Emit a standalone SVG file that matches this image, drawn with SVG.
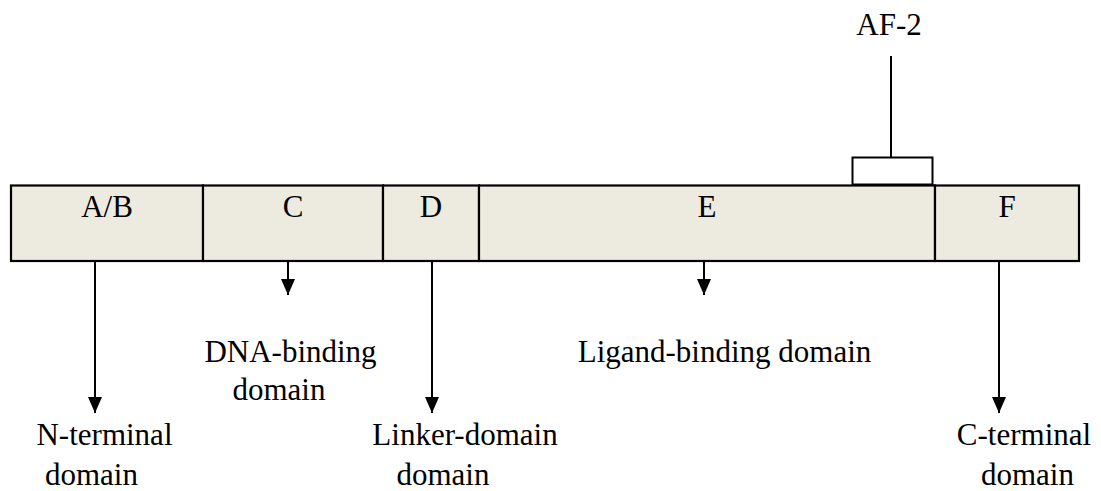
<svg xmlns="http://www.w3.org/2000/svg" width="1101" height="491" viewBox="0 0 1101 491">
<defs>
<marker id="ah" markerWidth="16" markerHeight="14" refX="16" refY="7" orient="auto" markerUnits="userSpaceOnUse" viewBox="0 0 16 14">
<path d="M0,0 L16,7 L0,14 Z" fill="#000"/>
</marker>
</defs>
<style>
.cell{fill:#EDEADF;stroke:#000;stroke-width:2.2}
.lbl{font-family:"Liberation Serif","Times New Roman",serif;font-size:31px;fill:#000;text-anchor:middle}
.txt{font-family:"Liberation Serif","Times New Roman",serif;font-size:31px;fill:#000;text-anchor:middle}
.con{stroke:#000;stroke-width:2;fill:none}
</style>
<rect width="1101" height="491" fill="#fff"/>
<g id="af2">
<text class="txt" x="889" y="35">AF-2</text>
<rect x="852.5" y="157.5" width="80" height="27" fill="#fff" stroke="#000" stroke-width="2"/>
</g>
<g id="cell-ab"><rect class="cell" x="11" y="185.5" width="192" height="75.5"/><text class="lbl" x="107" y="217">A/B</text></g>
<g id="cell-c"><rect class="cell" x="203" y="185.5" width="180" height="75.5"/><text class="lbl" x="293" y="217">C</text></g>
<g id="cell-d"><rect class="cell" x="383" y="185.5" width="96" height="75.5"/><text class="lbl" x="431" y="217">D</text></g>
<g id="cell-e"><rect class="cell" x="479" y="185.5" width="456" height="75.5"/><text class="lbl" x="707" y="217">E</text></g>
<g id="cell-f"><rect class="cell" x="935" y="185.5" width="144" height="75.5"/><text class="lbl" x="1007" y="217">F</text></g>
<g id="connectors">
<line class="con" x1="891" y1="56" x2="891" y2="157.5"/>
<line class="con" x1="95" y1="262" x2="95" y2="413" marker-end="url(#ah)"/>
<line class="con" x1="288" y1="262" x2="288" y2="295" marker-end="url(#ah)"/>
<line class="con" x1="432" y1="262" x2="432" y2="413" marker-end="url(#ah)"/>
<line class="con" x1="704" y1="262" x2="704" y2="295" marker-end="url(#ah)"/>
<line class="con" x1="999" y1="262" x2="999" y2="413" marker-end="url(#ah)"/>
</g>
<g id="label-n"><text class="txt" x="104.5" y="445">N-terminal</text><text class="txt" x="91.5" y="485">domain</text></g>
<g id="label-dna"><text class="txt" x="290.5" y="362">DNA-binding</text><text class="txt" x="279" y="400">domain</text></g>
<g id="label-linker"><text class="txt" x="465" y="445">Linker-domain</text><text class="txt" x="443" y="485">domain</text></g>
<g id="label-ligand"><text class="txt" x="724.5" y="362">Ligand-binding domain</text></g>
<g id="label-c"><text class="txt" x="1024" y="445">C-terminal</text><text class="txt" x="1027.5" y="485">domain</text></g>
</svg>
